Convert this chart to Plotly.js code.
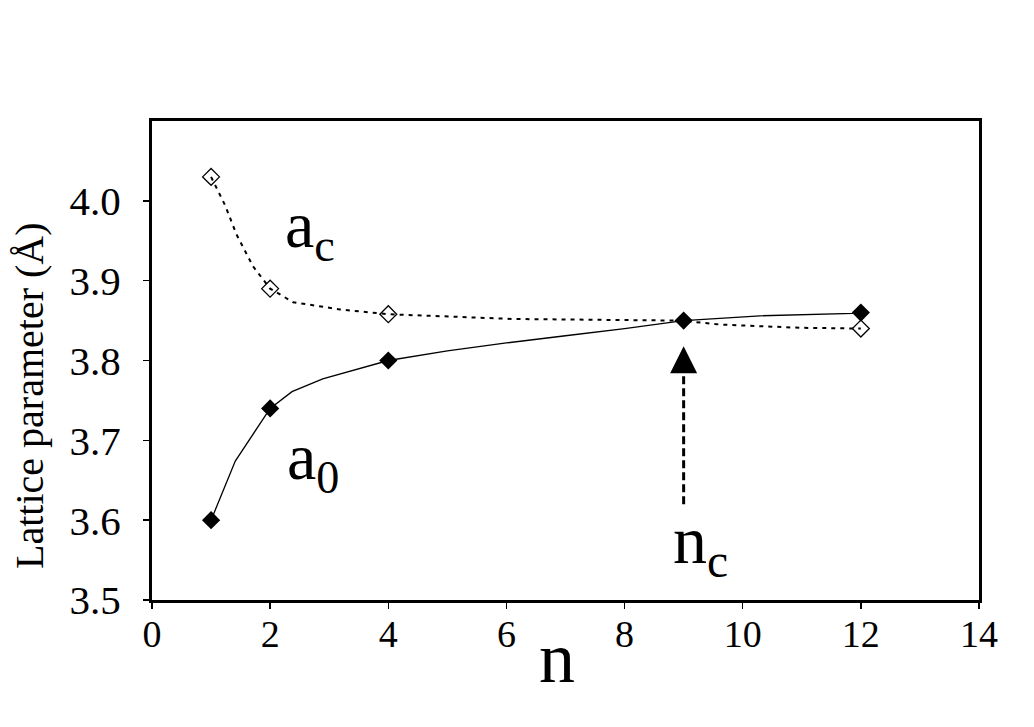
<!DOCTYPE html>
<html>
<head>
<meta charset="utf-8">
<script src="https://cdn.plot.ly/plotly-3.0.1.min.js"></script>
<style>
  html, body { margin: 0; padding: 0; background: #fff; }
  #graph-view { width: 1034px; height: 727px; }
</style>
</head>
<body>
<div id="graph-view"></div>
<script>
// measured points (markers)
const a0N = [1, 2, 4, 9, 12];
const a0Vals = [3.60, 3.74, 3.80, 3.85, 3.86];
const acN = [1, 2, 4, 12];
const acVals = [4.03, 3.89, 3.858, 3.84];

// hand-drawn guide curves through the points, as they appear in the figure
const a0CurveN = [1, 1.41, 2, 2.37, 2.89, 4, 5, 6, 7, 8, 9, 10.29, 11.87, 12];
const a0CurveVals = [3.60, 3.674, 3.74, 3.761, 3.777, 3.80, 3.812, 3.822, 3.831, 3.840, 3.85, 3.856, 3.859, 3.86];
const acCurveN = [1, 1.24, 1.43, 1.71, 2, 2.39, 3.18, 4, 6.11, 8.94, 9.62, 10.97, 12];
const acCurveVals = [4.03, 3.994, 3.958, 3.918, 3.89, 3.873, 3.864, 3.858, 3.852, 3.850, 3.845, 3.841, 3.84];

// critical n arrow
const nc = 9;
const ncArrowFrom = 3.62;
const ncArrowTo = 3.818;

const xTicks = [0, 2, 4, 6, 8, 10, 12, 14];
const yTicks = [3.5, 3.6, 3.7, 3.8, 3.9, 4.0];

const serif = 'Liberation Serif';

var traces = [
  {
    x: acCurveN, y: acCurveVals, mode: 'lines', type: 'scatter',
    line: { color: '#000', width: 2, dash: '4px,5px' }, hoverinfo: 'skip'
  },
  {
    x: a0CurveN, y: a0CurveVals, mode: 'lines', type: 'scatter',
    line: { color: '#000', width: 1.3 }, hoverinfo: 'skip'
  },
  {
    x: acN, y: acVals, mode: 'markers', type: 'scatter',
    marker: { symbol: 'diamond-open', size: 13, color: '#000', line: { width: 1.3, color: '#000' } }
  },
  {
    x: a0N, y: a0Vals, mode: 'markers', type: 'scatter',
    marker: { symbol: 'diamond', size: 14, color: '#000' }
  }
];

var layout = {
  width: 1034, height: 727,
  margin: { l: 152, r: 55, t: 121, b: 127 },
  paper_bgcolor: '#fff', plot_bgcolor: '#fff',
  showlegend: false,
  font: { family: serif, color: '#000' },
  xaxis: {
    range: [0, 14], tickvals: xTicks, ticktext: xTicks.map(String),
    showgrid: false, zeroline: false,
    showline: true, linecolor: '#000', linewidth: 3, mirror: true,
    ticks: 'outside', ticklen: 6, tickwidth: 1.5, tickcolor: '#000',
    tickfont: { size: 38, family: serif }, ticklabelstandoff: -8
  },
  yaxis: {
    range: [3.5, 4.1], tickvals: yTicks, ticktext: yTicks.map(v => v.toFixed(1)),
    showgrid: false, zeroline: false,
    showline: true, linecolor: '#000', linewidth: 3, mirror: true,
    ticks: 'outside', ticklen: 6, tickwidth: 1.5, tickcolor: '#000',
    tickfont: { size: 41, family: serif }, ticklabelstandoff: 14
  },
  shapes: [
    {
      type: 'line', xref: 'x', yref: 'y',
      x0: nc, x1: nc, y0: ncArrowFrom, y1: ncArrowTo - 0.03,
      line: { color: '#000', width: 3, dash: '8px,4px' }
    }
  ],
  annotations: [
    {
      // axis titles, placed where the original has them
      x: 0.49, y: -0.121, xref: 'paper', yref: 'paper', xanchor: 'center', yanchor: 'middle',
      showarrow: false, text: 'n', font: { size: 72, family: serif, color: '#000' }
    },
    {
      x: -0.1475, y: 0.426, xref: 'paper', yref: 'paper', xanchor: 'center', yanchor: 'middle',
      textangle: -90, showarrow: false, text: 'Lattice parameter (Å)',
      font: { size: 40, family: serif, color: '#000' }
    },
    {
      x: nc, y: ncArrowTo, xref: 'x', yref: 'y',
      showarrow: true, arrowhead: 2, arrowsize: 1.8, arrowwidth: 3, arrowcolor: '#000',
      ax: 0, ay: 24, text: ''
    },
    {
      x: 2.22, y: 3.964, xref: 'x', yref: 'y', xanchor: 'left', yanchor: 'middle',
      showarrow: false, text: 'a<sub>c</sub>', font: { size: 66, family: serif, color: '#000' }
    },
    {
      x: 2.25, y: 3.674, xref: 'x', yref: 'y', xanchor: 'left', yanchor: 'middle',
      showarrow: false, text: 'a<sub>0</sub>', font: { size: 66, family: serif, color: '#000' }
    },
    {
      x: 8.78, y: 3.569, xref: 'x', yref: 'y', xanchor: 'left', yanchor: 'middle',
      showarrow: false, text: 'n<sub>c</sub>', font: { size: 68, family: serif, color: '#000' }
    }
  ]
};

Plotly.newPlot('graph-view', traces, layout, { displayModeBar: false, staticPlot: true });
</script>
</body>
</html>
